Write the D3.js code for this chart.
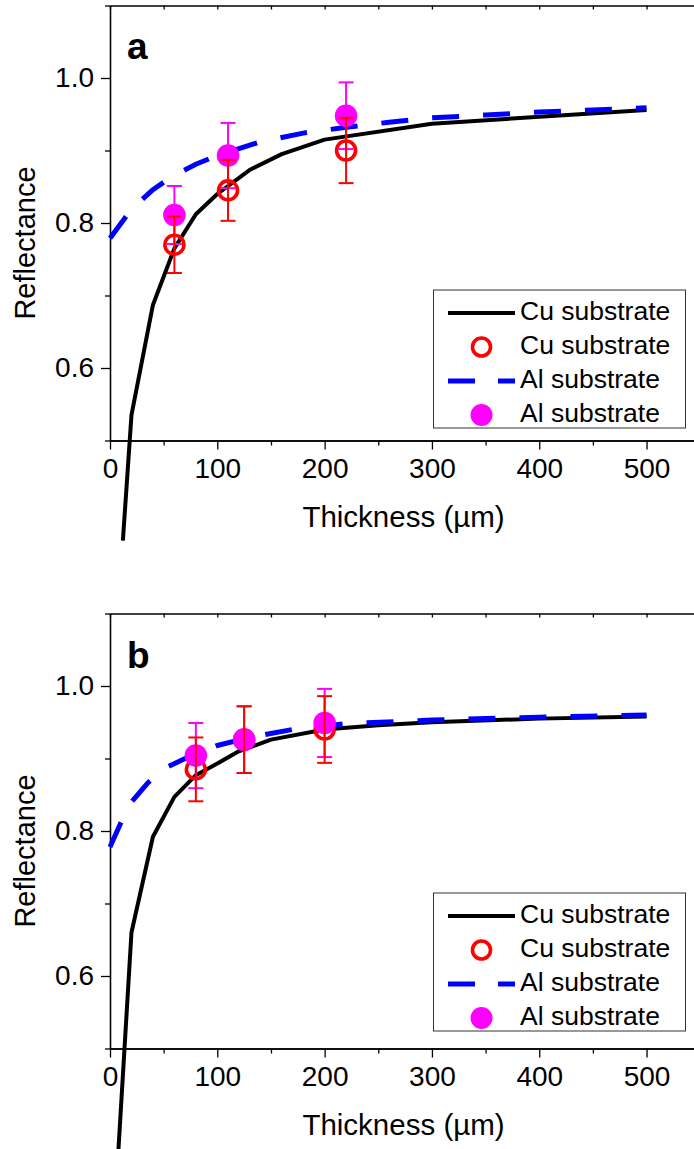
<!DOCTYPE html>
<meta charset="utf-8">
<script src="https://d3js.org/d3.v7.min.js"></script>
<style>
  body { margin: 0; background: #fff; }
</style>
<body>
<script>
    // ---- panel a data ----
    let thickCuFitA = [12, 20, 40, 60, 80, 100, 130, 160, 200, 300, 500]
    let reflCuFitA = [0.362, 0.535, 0.687, 0.765, 0.812, 0.840, 0.873, 0.895, 0.915, 0.937, 0.956]
    let thickAlFitA = [0, 20, 40, 60, 80, 100, 140, 180, 220, 260, 300, 350, 400, 450, 500]
    let reflAlFitA = [0.779, 0.819, 0.846, 0.866, 0.881, 0.893, 0.912, 0.924, 0.932, 0.939, 0.945, 0.949, 0.953, 0.956, 0.959]
    let thickMeasA = [60, 110, 220]
    let reflCuA = [0.770, 0.845, 0.900]
    let errCuA = [0.039, 0.042, 0.045]
    let reflAlA = [0.811, 0.893, 0.948]
    let errAlA = [0.040, 0.045, 0.046]

    // ---- panel b data ----
    let thickCuFitB = [5, 20, 40, 60, 80, 100, 120, 150, 200, 250, 300, 400, 500]
    let reflCuFitB = [0.29, 0.66, 0.792, 0.847, 0.877, 0.893, 0.910, 0.926, 0.940, 0.946, 0.950, 0.955, 0.958]
    let thickAlFitB = [0, 10, 20, 35, 50, 70, 100, 130, 170, 220, 300, 400, 500]
    let reflAlFitB = [0.778, 0.811, 0.840, 0.866, 0.886, 0.900, 0.918, 0.929, 0.940, 0.948, 0.953, 0.957, 0.960]
    let thickMeasB = [80, 125, 200]
    let reflCuB = [0.885, 0.926, 0.940]
    let errCuB = [0.044, 0.046, 0.046]
    let reflAlB = [0.904, 0.926, 0.949]
    let errAlB = [0.045, 0.046, 0.047]

    // ---- ticks / labels ----
    let xMajor = [0, 100, 200, 300, 400, 500]
    let xMinor = [50, 150, 250, 350, 450, 550]
    let yMajor = [0.6, 0.8, 1.0]
    let yMinor = [0.5, 0.7, 0.9, 1.1]
    let legendLabels = ['Cu substrate', 'Cu substrate', 'Al substrate', 'Al substrate']

    var W = 694, H = 1149
    var font = 'Arial, "Liberation Sans", sans-serif'

    let svg = d3.select('body').append('svg')
        .attr('width', W)
        .attr('height', H)

    // x scale shared by both panels
    var x = d3.scaleLinear()
        .domain([0, 550])
        .range([110, 700.2])

    function styleAxis(sel) {
        sel.select('.domain').attr('stroke', '#000').attr('stroke-width', 1.3)
        sel.selectAll('.tick line').attr('stroke', '#000').attr('stroke-width', 1.3)
        sel.attr('font-family', font).attr('font-size', 28)
        sel.selectAll('text').attr('fill', '#000')
    }

    function drawPanel(p) {
        var y = d3.scaleLinear()
            .domain([0.5, 1.1])
            .range([p.bottom, p.top])
        var g = svg.append('g')

        // bottom axis
        g.append('g')
            .attr('transform', 'translate(0,' + p.bottom + ')')
            .call(d3.axisBottom(x).tickValues(xMinor).tickSize(5).tickSizeOuter(0).tickFormat(''))
            .call(styleAxis)
        g.append('g')
            .attr('transform', 'translate(0,' + p.bottom + ')')
            .call(d3.axisBottom(x).tickValues(xMajor).tickSize(9).tickSizeOuter(0).tickPadding(9).tickFormat(d3.format('d')))
            .call(styleAxis)

        // top axis, ticks inward
        g.append('g')
            .attr('transform', 'translate(0,' + p.top + ')')
            .call(d3.axisBottom(x).tickValues(xMajor.concat(xMinor)).tickSize(4).tickSizeOuter(0).tickFormat(''))
            .call(styleAxis)

        // left axis
        g.append('g')
            .attr('transform', 'translate(110,0)')
            .call(d3.axisLeft(y).tickValues(yMinor).tickSize(5).tickSizeOuter(0).tickFormat(''))
            .call(styleAxis)
        g.append('g')
            .attr('transform', 'translate(110,0)')
            .call(d3.axisLeft(y).tickValues(yMajor).tickSize(9).tickSizeOuter(0).tickPadding(7).tickFormat(d3.format('.1f')))
            .call(styleAxis)

        // axis titles
        g.append('text')
            .attr('x', 403.5)
            .attr('y', p.bottom + 86)
            .attr('text-anchor', 'middle')
            .style('font-family', font)
            .style('font-size', '29.5px')
            .text('Thickness (µm)')
        g.append('text')
            .attr('transform', 'translate(35,' + ((p.top + p.bottom) / 2 + 20) + ') rotate(-90)')
            .attr('text-anchor', 'middle')
            .style('font-family', font)
            .style('font-size', '29px')
            .text('Reflectance')

        // panel letter
        g.append('text')
            .attr('x', 127)
            .attr('y', p.top + p.letterY)
            .style('font-family', font)
            .style('font-size', '37px')
            .style('font-weight', 'bold')
            .text(p.letter)

        var line = d3.line()
            .x(function (d) { return x(d[0]) })
            .y(function (d) { return y(d[1]) })

        // fit curves (not clipped, they run past the axis)
        g.append('path')
            .datum(d3.zip(p.cuFitX, p.cuFitR))
            .attr('d', line)
            .attr('fill', 'none')
            .attr('stroke', '#000')
            .attr('stroke-width', 4)
            .attr('stroke-linejoin', 'round')
        g.append('path')
            .datum(d3.zip(p.alFitX, p.alFitR))
            .attr('d', line)
            .attr('fill', 'none')
            .attr('stroke', '#0000ff')
            .attr('stroke-width', 5)
            .attr('stroke-dasharray', '27,24')

        var cu = d3.zip(p.measX, p.cuR, p.cuE)
        var al = d3.zip(p.measX, p.alR, p.alE)

        g.append('g').selectAll('circle')
            .data(cu).enter().append('circle')
            .attr('cx', function (d) { return x(d[0]) })
            .attr('cy', function (d) { return y(d[1]) })
            .attr('r', 9.5)
            .attr('fill', 'none')
            .attr('stroke', '#ff0000')
            .attr('stroke-width', 3.6)
        g.append('g').selectAll('circle')
            .data(al).enter().append('circle')
            .attr('cx', function (d) { return x(d[0]) })
            .attr('cy', function (d) { return y(d[1]) })
            .attr('r', 11.3)
            .attr('fill', '#ff00ff')

        function errorBars(data, color) {
            var eb = g.append('g').attr('stroke', color).attr('stroke-width', 2)
            data.forEach(function (d) {
                var cx = x(d[0]), y0 = y(d[1] - d[2]), y1 = y(d[1] + d[2])
                eb.append('line').attr('x1', cx).attr('x2', cx).attr('y1', y0).attr('y2', y1)
                eb.append('line').attr('x1', cx - 7.5).attr('x2', cx + 7.5).attr('y1', y0).attr('y2', y0)
                eb.append('line').attr('x1', cx - 7.5).attr('x2', cx + 7.5).attr('y1', y1).attr('y2', y1)
            })
        }
        errorBars(al, '#ff00ff')
        errorBars(cu, '#ff0000')

        // legend
        var lg = g.append('g')
        lg.append('rect')
            .attr('x', 433.5)
            .attr('y', p.legTop)
            .attr('width', 252)
            .attr('height', 138)
            .attr('fill', '#fff')
            .attr('stroke', '#333')
            .attr('stroke-width', 1)
        legendLabels.forEach(function (t, i) {
            var base = p.legTop + 30 + i * 34
            lg.append('text')
                .attr('x', 520)
                .attr('y', base)
                .style('font-family', font)
                .style('font-size', '26.5px')
                .text(t)
            var cy = base - 7
            if (i == 0) {
                lg.append('line').attr('x1', 448).attr('x2', 515).attr('y1', cy).attr('y2', cy)
                    .attr('stroke', '#000').attr('stroke-width', 4)
            } else if (i == 1) {
                lg.append('circle').attr('cx', 481.5).attr('cy', cy).attr('r', 9)
                    .attr('fill', 'none').attr('stroke', '#ff0000').attr('stroke-width', 3.6)
            } else if (i == 2) {
                lg.append('line').attr('x1', 448).attr('x2', 515).attr('y1', cy).attr('y2', cy)
                    .attr('stroke', '#0000ff').attr('stroke-width', 5).attr('stroke-dasharray', '27,23')
            } else {
                lg.append('circle').attr('cx', 481.5).attr('cy', cy).attr('r', 11)
                    .attr('fill', '#ff00ff')
            }
        })
    }

    drawPanel({
        top: 5.5, bottom: 440.5, letter: 'a', letterY: 53, legTop: 290,
        cuFitX: thickCuFitA, cuFitR: reflCuFitA, alFitX: thickAlFitA, alFitR: reflAlFitA,
        measX: thickMeasA, cuR: reflCuA, cuE: errCuA, alR: reflAlA, alE: errAlA
    })
    drawPanel({
        top: 613.5, bottom: 1048.5, letter: 'b', letterY: 54, legTop: 893,
        cuFitX: thickCuFitB, cuFitR: reflCuFitB, alFitX: thickAlFitB, alFitR: reflAlFitB,
        measX: thickMeasB, cuR: reflCuB, cuE: errCuB, alR: reflAlB, alE: errAlB
    })
</script>
